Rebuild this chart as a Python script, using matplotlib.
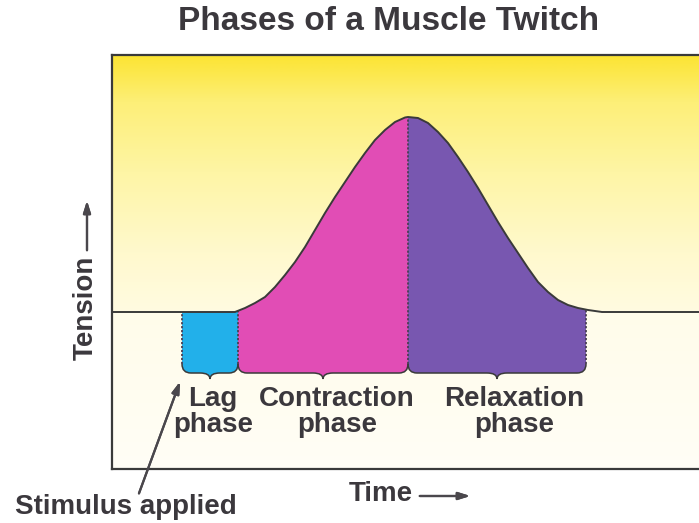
import numpy as np
import matplotlib.pyplot as plt
from matplotlib.path import Path
from matplotlib.patches import PathPatch, Polygon

# twitch curve (time in arbitrary units, tension relative to rest)
time = [0.0, 12.3, 13.3, 14.3, 15.3, 16.3, 17.3, 18.3, 19.3, 20.3, 21.3, 22.3, 23.3,
        24.3, 25.3, 26.3, 27.3, 28.3, 29.3, 29.6,
        30.6, 31.6, 32.6, 33.6, 34.6, 35.6, 36.6, 37.6, 38.6, 39.6, 40.6, 41.6, 42.6,
        43.6, 44.6, 45.6, 46.6, 47.6, 49.0, 60.0]
tension = [0.0, 0.0, 0.4, 0.9, 1.5, 2.5, 3.7, 5.0, 6.5, 8.2, 9.9, 11.5, 13.0,
           14.5, 15.9, 17.2, 18.2, 19.0, 19.45, 19.5,
           19.4, 18.9, 18.0, 16.9, 15.5, 14.0, 12.4, 10.7, 9.0, 7.4, 5.9, 4.4, 3.0,
           2.0, 1.2, 0.7, 0.4, 0.2, 0.0, 0.0]

phase_labels = ['Lag\nphase', 'Contraction\nphase', 'Relaxation\nphase']
phase_start = [7.0, 12.6, 29.6]
phase_end = [12.6, 29.6, 47.4]
label_x = [10.1, 22.5, 40.2]
phase_colors = ['#22b0ea', '#e14db5', '#7857b0']

W, H = 699, 523
TXT = '#3b383d'
LINE = '#3a3a3a'
plt.rcParams['font.family'] = ['Liberation Sans', 'DejaVu Sans']


def fx(px):
    return px / W


def fy(py):
    return 1 - py / H


fig = plt.figure(figsize=(W / 100, H / 100), dpi=100)
ax = fig.add_axes([fx(112), fy(469), 600 / W, 414 / H])
ax.set_xlim(0, 60)
ax.set_ylim(-15.7, 25.7)

# background: yellow fading down to the baseline, pale cream below it
rows = np.linspace(25.7, -15.7, 500)
stops_y = [25.7, 24.0, 21.0, 14.0, 6.0, 0.0, -0.01, -15.7]
cols = np.array([[252, 228, 52], [252, 232, 75], [253, 239, 120], [254, 245, 165],
                 [255, 249, 205], [255, 251, 225], [255, 252, 234], [255, 254, 246]]) / 255
grad = np.stack([np.interp(rows, stops_y[::-1], cols[::-1, k]) for k in range(3)], axis=1)
ax.imshow(grad[:, None, :], extent=[0, 60, -15.7, 25.7], aspect='auto', zorder=0)

# area under the twitch curve, used to clip the coloured phases
under = Polygon(list(zip(time, tension)) + [(60, -15.7), (0, -15.7)], closed=True,
                transform=ax.transData)

yb, r, tip, w = -6.1, 0.9, 0.6, 1.0


def brace(x0, x1, closed):
    xm = (x0 + x1) / 2
    verts = [(x0, yb + r), (x0, yb), (x0 + r, yb), (xm - w, yb), (xm, yb), (xm, yb - tip),
             (xm, yb), (xm + w, yb), (x1 - r, yb), (x1, yb), (x1, yb + r)]
    codes = [Path.MOVETO, Path.CURVE3, Path.CURVE3, Path.LINETO, Path.CURVE3, Path.CURVE3,
             Path.CURVE3, Path.CURVE3, Path.LINETO, Path.CURVE3, Path.CURVE3]
    if closed:
        verts = [(x0, 25)] + verts + [(x1, 25), (x0, 25)]
        codes = [Path.MOVETO, Path.LINETO] + codes[1:] + [Path.LINETO, Path.CLOSEPOLY]
    return Path(verts, codes)


for x0, x1, c in zip(phase_start, phase_end, phase_colors):
    p = PathPatch(brace(x0, x1, True), facecolor=c, edgecolor='none', zorder=1)
    ax.add_patch(p)
    p.set_clip_path(under)
    ax.add_patch(PathPatch(brace(x0, x1, False), facecolor='none', edgecolor=LINE,
                           lw=1.1, zorder=3))

# dotted phase boundaries
for xe in sorted(set(phase_start + phase_end)):
    ln, = ax.plot([xe, xe], [yb + r, 25], color='#4a3f55', lw=1.3,
                  ls=(0, (1.2, 1.0)), zorder=2)
    ln.set_clip_path(under)

ax.plot(time, tension, color=LINE, lw=1.4, zorder=4)

for s in ['left', 'top', 'bottom']:
    ax.spines[s].set_color(LINE)
    ax.spines[s].set_linewidth(1.6)
ax.spines['right'].set_visible(False)
ax.set_xticks([])
ax.set_yticks([])

for lx, lab in zip(label_x, phase_labels):
    ax.text(lx, -10.0, lab, ha='center', va='center', fontsize=20, fontweight='bold',
            color=TXT, linespacing=0.98, zorder=5)

fig.text(fx(389), fy(22), 'Phases of a Muscle Twitch', ha='center', va='center',
         fontsize=24, fontweight='bold', color=TXT)
fig.text(fx(381), fy(494), 'Time', ha='center', va='center', fontsize=20,
         fontweight='bold', color=TXT)
fig.text(fx(86), fy(308), 'Tension', ha='center', va='center', rotation=90,
         fontsize=20, fontweight='bold', color=TXT)
fig.text(fx(126), fy(507), 'Stimulus applied', ha='center', va='center', fontsize=20,
         fontweight='bold', color=TXT)

arrow = dict(arrowstyle='-|>,head_length=0.7,head_width=0.22', color='#4a474c', lw=1.6)
fig.add_artist(plt.annotate('', xy=(fx(473), fy(496)), xytext=(fx(417), fy(496)),
                            xycoords='figure fraction', arrowprops=arrow))
fig.add_artist(plt.annotate('', xy=(fx(87), fy(198)), xytext=(fx(87), fy(253)),
                            xycoords='figure fraction', arrowprops=arrow))
fig.add_artist(plt.annotate('', xy=(fx(181), fy(379)), xytext=(fx(138), fy(496)),
                            xycoords='figure fraction', arrowprops=arrow))

fig.savefig('out.png', dpi=100, facecolor='white')
